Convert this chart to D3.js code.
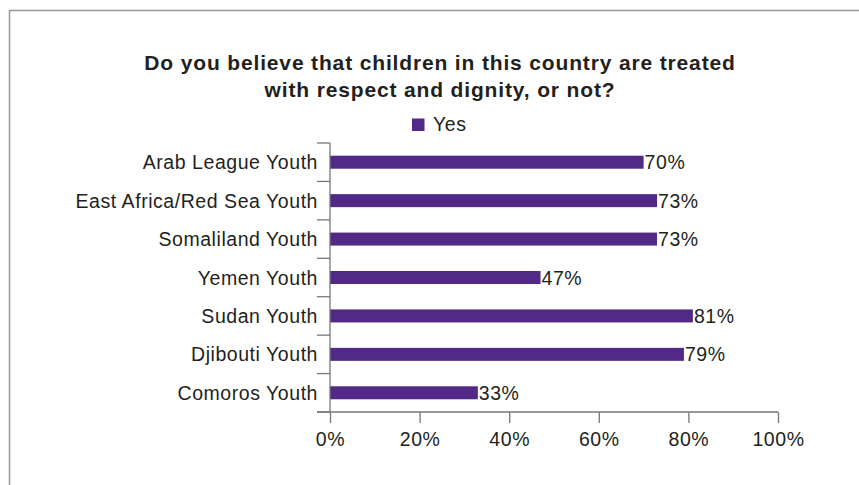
<!DOCTYPE html>
<html><head><meta charset="utf-8">
<script src="https://cdn.jsdelivr.net/npm/d3@7"></script>
<style>body{margin:0;background:#fff;}svg{display:block;font-family:"Liberation Sans",Arial,sans-serif;}</style>
</head><body>
<svg id="c" width="859" height="485"></svg>
<script>
const categories = ["Arab League Youth","East Africa/Red Sea Youth","Somaliland Youth","Yemen Youth","Sudan Youth","Djibouti Youth","Comoros Youth"];
const yesValues = [70,73,73,47,81,79,33];
const tickValues = [0,20,40,60,80,100];
const titleLines = ["Do you believe that children in this country are treated","with respect and dignity, or not?"];
const legendLabel = "Yes";

const svg = d3.select("#c");
const ink = "#231f20", axisCol = "#777", barCol = "#532987";
const FS = 19.5, LS = 0.55;

svg.append("rect").attr("x",9.5).attr("y",10.5).attr("width",900).attr("height",500)
  .attr("fill","none").attr("stroke","#999").attr("stroke-width",1.5);

const x = d3.scaleLinear().domain([0,100]).range([330,778]);
const yb = d3.scaleBand().domain(categories).range([143,412]);

svg.append("g").selectAll("text").data(titleLines).join("text")
  .attr("x",440).attr("y",(d,i)=>70+i*27).attr("text-anchor","middle")
  .attr("font-size",21).attr("font-weight","bold").attr("letter-spacing",0.85).attr("fill",ink).text(d=>d);

svg.append("rect").attr("x",412).attr("y",118.5).attr("width",12.5).attr("height",12.5).attr("fill",barCol);
svg.append("text").attr("x",433).attr("y",131).attr("font-size",FS).attr("letter-spacing",LS).attr("fill",ink).text(legendLabel);

svg.selectAll("rect.bar").data(categories).join("rect").attr("class","bar")
  .attr("x",x(0)).attr("y",d=>yb(d)+yb.bandwidth()/2-6.5).attr("height",13)
  .attr("width",(d,i)=>x(yesValues[i])-x(0)).attr("fill",barCol);

svg.selectAll("text.val").data(categories).join("text").attr("class","val")
  .attr("x",(d,i)=>x(yesValues[i])+1).attr("y",d=>yb(d)+yb.bandwidth()/2+7)
  .attr("font-size",FS).attr("letter-spacing",LS).attr("fill",ink).text((d,i)=>yesValues[i]+"%");

// y axis
const ya = svg.append("g").attr("transform","translate(330,0)")
  .call(d3.axisLeft(yb).tickSize(0).tickPadding(12));
ya.select(".domain").remove();
ya.selectAll("text").attr("font-size",FS).attr("letter-spacing",LS).attr("fill",ink)
  .attr("font-family","Liberation Sans, Arial, sans-serif").attr("dy","0.36em");
const bounds = categories.map(c=>yb(c)).concat([412]);
svg.append("g").selectAll("line").data(bounds).join("line")
  .attr("x1",317).attr("x2",330).attr("y1",d=>d).attr("y2",d=>d)
  .attr("stroke",axisCol).attr("stroke-width",1.3);
svg.append("line").attr("x1",330).attr("x2",330).attr("y1",143).attr("y2",412).attr("stroke",axisCol).attr("stroke-width",1.3);

// x axis
const xa = svg.append("g").attr("transform","translate(0,412)")
  .call(d3.axisBottom(x).tickValues(tickValues).tickFormat(d=>d+"%").tickSize(11).tickSizeOuter(0).tickPadding(9));
xa.select(".domain").remove();
xa.selectAll("line").attr("stroke",axisCol).attr("stroke-width",1.3);
xa.selectAll("text").attr("font-size",FS).attr("letter-spacing",LS).attr("fill",ink)
  .attr("font-family","Liberation Sans, Arial, sans-serif");
svg.append("line").attr("x1",317).attr("x2",778).attr("y1",412).attr("y2",412).attr("stroke",axisCol).attr("stroke-width",1.3);
</script>
</body></html>
